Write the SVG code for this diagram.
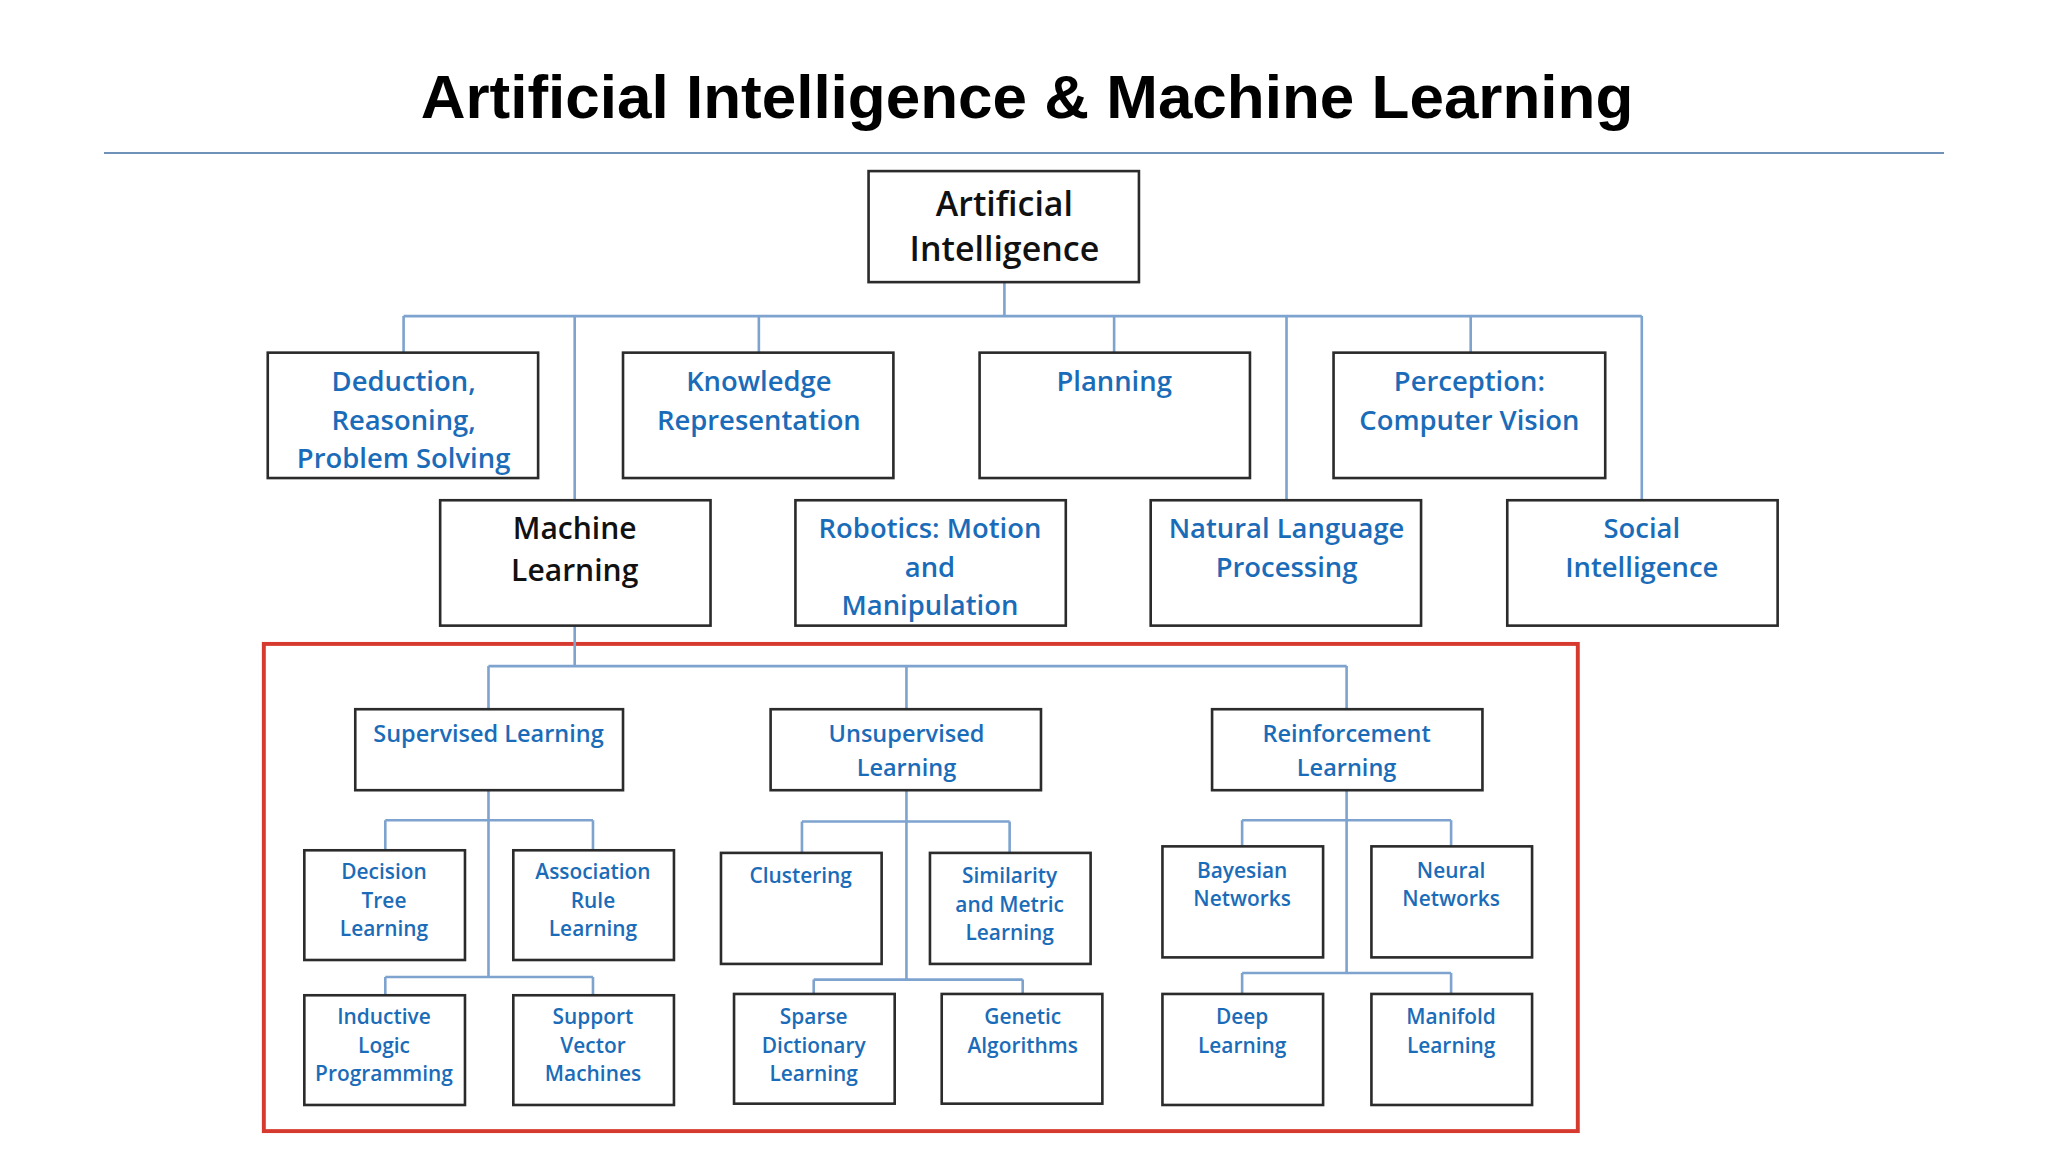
<svg xmlns="http://www.w3.org/2000/svg" width="2048" height="1152" viewBox="0 0 2048 1152">
<style>
.b{fill:#fff;stroke:#2b2b2b;stroke-width:2}
.t{font-family:"Open Sans","Noto Sans",sans-serif;font-weight:600;fill:#1b6cb8;text-anchor:middle}
.k{fill:#111}
.c{fill:none;stroke:#7ea3cf;stroke-width:2}
.l{font-size:21px}.m{font-size:18px}.s{font-size:16px}
</style>
<rect width="2048" height="1152" fill="#fff"/>
<text x="1027" y="118" font-family="Liberation Sans,Arial,sans-serif" font-weight="bold" font-size="62" text-anchor="middle" fill="#000">Artificial Intelligence &amp; Machine Learning</text>
<line x1="104" y1="153" x2="1944" y2="153" stroke="#6f93b8" stroke-width="2"/>
<g transform="scale(1.30612)">
<rect x="202" y="493" width="1006" height="373" fill="none" stroke="#d63a2f" stroke-width="3"/>
<g id="connectors" class="c">
<path d="M769 216V242M309 242H1257M309 242V270M440 242V383M581 242V270M853 242V270M985 242V383M1126 242V270M1257 242V383"/>
<path d="M440 479V510M374 510H1031M374 510V543M694 510V543M1031 510V543"/>
<path d="M374 605V748M295 628H454M295 628V651M454 628V651M295 748H454M295 748V762M454 748V762"/>
<path d="M694 605V750M614 629H773M614 629V653M773 629V653M623 750H783M623 750V761M783 750V761"/>
<path d="M1031 605V745M951 628H1111M951 628V648M1111 628V648M951 745H1111M951 745V761M1111 745V761"/>
</g>
<g id="ai"><rect class="b" x="665" y="131" width="207" height="85"/><text class="t k" font-size="26" x="769" y="165">Artificial</text><text class="t k" font-size="26" x="769" y="200">Intelligence</text></g>
<g id="deduction"><rect class="b" x="205" y="270" width="207" height="96"/><text class="t l" x="309" y="299">Deduction,</text><text class="t l" x="309" y="329">Reasoning,</text><text class="t l" x="309" y="358">Problem Solving</text></g>
<g id="knowledge"><rect class="b" x="477" y="270" width="207" height="96"/><text class="t l" x="581" y="299">Knowledge</text><text class="t l" x="581" y="329">Representation</text></g>
<g id="planning"><rect class="b" x="750" y="270" width="207" height="96"/><text class="t l" x="853" y="299">Planning</text></g>
<g id="perception"><rect class="b" x="1021" y="270" width="208" height="96"/><text class="t l" x="1125" y="299">Perception:</text><text class="t l" x="1125" y="329">Computer Vision</text></g>
<g id="ml"><rect class="b" x="337" y="383" width="207" height="96"/><text class="t k" font-size="23" x="440" y="413">Machine</text><text class="t k" font-size="23" x="440" y="445">Learning</text></g>
<g id="robotics"><rect class="b" x="609" y="383" width="207" height="96"/><text class="t l" x="712" y="412">Robotics: Motion</text><text class="t l" x="712" y="442">and</text><text class="t l" x="712" y="471">Manipulation</text></g>
<g id="nlp"><rect class="b" x="881" y="383" width="207" height="96"/><text class="t l" x="985" y="412">Natural Language</text><text class="t l" x="985" y="442">Processing</text></g>
<g id="social"><rect class="b" x="1154" y="383" width="207" height="96"/><text class="t l" x="1257" y="412">Social</text><text class="t l" x="1257" y="442">Intelligence</text></g>
<g id="supervised"><rect class="b" x="272" y="543" width="205" height="62"/><text class="t m" x="374" y="568">Supervised Learning</text></g>
<g id="unsupervised"><rect class="b" x="590" y="543" width="207" height="62"/><text class="t m" x="694" y="568">Unsupervised</text><text class="t m" x="694" y="594">Learning</text></g>
<g id="reinforcement"><rect class="b" x="928" y="543" width="207" height="62"/><text class="t m" x="1031" y="568">Reinforcement</text><text class="t m" x="1031" y="594">Learning</text></g>
<g id="decision"><rect class="b" x="233" y="651" width="123" height="84"/><text class="t s" x="294" y="673">Decision</text><text class="t s" x="294" y="695">Tree</text><text class="t s" x="294" y="717">Learning</text></g>
<g id="association"><rect class="b" x="393" y="651" width="123" height="84"/><text class="t s" x="454" y="673">Association</text><text class="t s" x="454" y="695">Rule</text><text class="t s" x="454" y="717">Learning</text></g>
<g id="inductive"><rect class="b" x="233" y="762" width="123" height="84"/><text class="t s" x="294" y="784">Inductive</text><text class="t s" x="294" y="806">Logic</text><text class="t s" x="294" y="828">Programming</text></g>
<g id="svm"><rect class="b" x="393" y="762" width="123" height="84"/><text class="t s" x="454" y="784">Support</text><text class="t s" x="454" y="806">Vector</text><text class="t s" x="454" y="828">Machines</text></g>
<g id="clustering"><rect class="b" x="552" y="653" width="123" height="85"/><text class="t s" x="613" y="676">Clustering</text></g>
<g id="similarity"><rect class="b" x="712" y="653" width="123" height="85"/><text class="t s" x="773" y="676">Similarity</text><text class="t s" x="773" y="698">and Metric</text><text class="t s" x="773" y="720">Learning</text></g>
<g id="sparse"><rect class="b" x="562" y="761" width="123" height="84"/><text class="t s" x="623" y="784">Sparse</text><text class="t s" x="623" y="806">Dictionary</text><text class="t s" x="623" y="828">Learning</text></g>
<g id="genetic"><rect class="b" x="721" y="761" width="123" height="84"/><text class="t s" x="783" y="784">Genetic</text><text class="t s" x="783" y="806">Algorithms</text></g>
<g id="bayesian"><rect class="b" x="890" y="648" width="123" height="85"/><text class="t s" x="951" y="672">Bayesian</text><text class="t s" x="951" y="694">Networks</text></g>
<g id="neural"><rect class="b" x="1050" y="648" width="123" height="85"/><text class="t s" x="1111" y="672">Neural</text><text class="t s" x="1111" y="694">Networks</text></g>
<g id="deep"><rect class="b" x="890" y="761" width="123" height="85"/><text class="t s" x="951" y="784">Deep</text><text class="t s" x="951" y="806">Learning</text></g>
<g id="manifold"><rect class="b" x="1050" y="761" width="123" height="85"/><text class="t s" x="1111" y="784">Manifold</text><text class="t s" x="1111" y="806">Learning</text></g>
</g>
</svg>
